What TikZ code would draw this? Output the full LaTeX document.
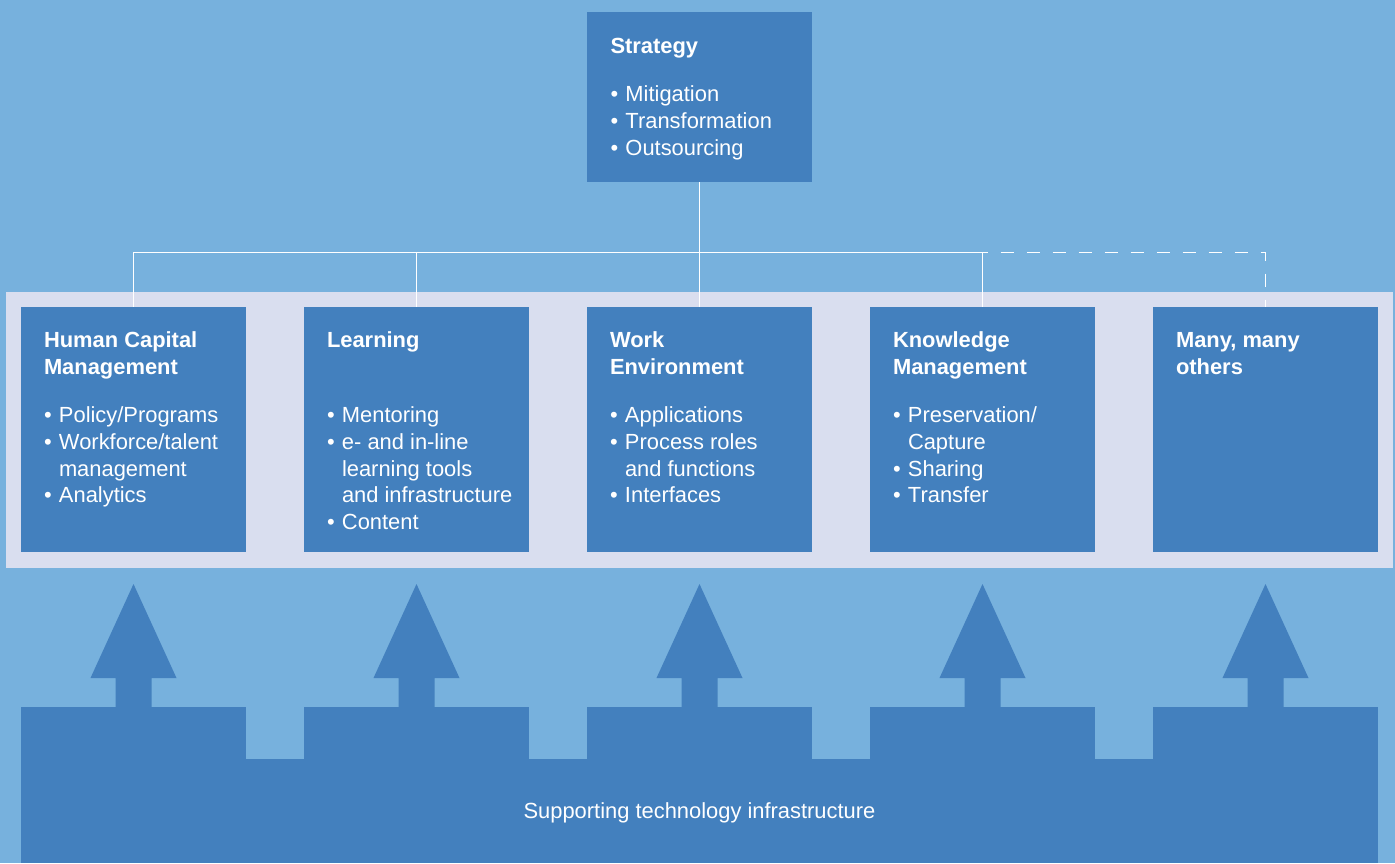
\documentclass[tikz,border=0pt]{standalone}
\usepackage{fontspec}
\setmainfont{Liberation Sans}
\usepackage{xcolor}
\usetikzlibrary{positioning}

\definecolor{skyblue}{HTML}{77B1DD}
\definecolor{boxblue}{HTML}{4380BE}
\definecolor{bandgrey}{HTML}{D9DEEF}
\newcommand{\bulletmark}{\makebox[15pt][l]{\textbullet}}
\newcommand{\hangmark}{\hspace*{15pt}}
\newcommand{\boxtext}[1]{\parbox[t]{200pt}{#1}}

\begin{document}
\begin{tikzpicture}[x=1pt,y=-1pt,
    box/.style={fill=boxblue, minimum width=225pt, minimum height=245pt, inner sep=0pt},
    head/.style={text=white, font=\fontsize{21.9}{26.7}\selectfont\bfseries, inner sep=0pt, anchor=base west},
    list/.style={text=white, font=\fontsize{21.9}{26.7}\selectfont, inner sep=0pt, anchor=base west},
    link/.style={draw=white, line width=1.4pt}]

        % background and band
        \fill[skyblue] (0,0) rectangle (1395,863);
        \fill[bandgrey] (6,292) rectangle (1393,568);

        \node[box, minimum height=170pt] (strat) at (699.5,97) {};
        \node[box] (hcm) at (133.5,429.5) {};
        \node[box] (learn) at (416.5,429.5) {};
        \node[box] (work) at (699.5,429.5) {};
        \node[box] (km) at (982.5,429.5) {};
        \node[box] (many) at (1265.5,429.5) {};

        \node[head] (strathead) at ([shift={(23.5pt,-41.5pt)}]strat.north west) {\boxtext{Strategy}};
        \node[list] (stratlist) at ([shift={(23.5pt,-90pt)}]strat.north west)
            {\boxtext{\bulletmark Mitigation\\ \bulletmark Transformation\\ \bulletmark Outsourcing}};

        \node[head] (hcmhead) at ([shift={(23pt,-41pt)}]hcm.north west) {\boxtext{Human Capital\\ Management}};
        \node[list] (hcmlist) at ([shift={(23pt,-116pt)}]hcm.north west)
            {\boxtext{\bulletmark Policy/Programs\\ \bulletmark Workforce/talent\\ \hangmark management\\ \bulletmark Analytics}};

        \node[head] (learnhead) at ([shift={(23pt,-41pt)}]learn.north west) {\boxtext{Learning}};
        \node[list] (learnlist) at ([shift={(23pt,-116pt)}]learn.north west)
            {\boxtext{\bulletmark Mentoring\\ \bulletmark e- and in-line\\ \hangmark learning tools\\ \hangmark and infrastructure\\ \bulletmark Content}};

        \node[head] (workhead) at ([shift={(23pt,-41pt)}]work.north west) {\boxtext{Work\\ Environment}};
        \node[list] (worklist) at ([shift={(23pt,-116pt)}]work.north west)
            {\boxtext{\bulletmark Applications\\ \bulletmark Process roles\\ \hangmark and functions\\ \bulletmark Interfaces}};

        \node[head] (kmhead) at ([shift={(23pt,-41pt)}]km.north west) {\boxtext{Knowledge\\ Management}};
        \node[list] (kmlist) at ([shift={(23pt,-116pt)}]km.north west)
            {\boxtext{\bulletmark Preservation/\\ \hangmark Capture\\ \bulletmark Sharing\\ \bulletmark Transfer}};

        \node[head] (manyhead) at ([shift={(23pt,-41pt)}]many.north west) {\boxtext{Many, many\\ others}};

        % connectors
        \coordinate (split) at (699.5,252.7);
        \draw[link] (strat.south) -- (split);
        \draw[link] (hcm.north) |- (split) -| (km.north);
        \draw[link] (learn.north) -- (learn.north |- split);
        \draw[link] (work.north) -- (split);
        \draw[link, dash pattern=on 13pt off 13pt, dash phase=8pt] (km.north |- split) -| (many.north);

        % arrows and infrastructure base
        \foreach \cx in {133.5,416.5,699.5,982.5,1265.5} {
            \fill[boxblue] (\cx,584) -- (\cx+43,678) -- (\cx+18,678) -- (\cx+18,707)
                -- (\cx-18,707) -- (\cx-18,678) -- (\cx-43,678) -- cycle;
            \fill[boxblue] (\cx-112.5,707) rectangle (\cx+112.5,863);
        }
        \fill[boxblue] (21,759) rectangle (1378,863);

        \node[list, anchor=base] (infra) at (699.5,818.5) {Supporting technology infrastructure};

    \end{tikzpicture}
\end{document}
